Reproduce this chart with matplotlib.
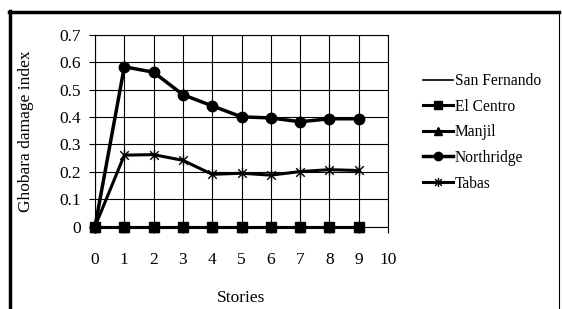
import numpy as np
import matplotlib.pyplot as plt
from matplotlib.path import Path
from matplotlib.lines import Line2D

plt.rcParams['font.family'] = ['Liberation Serif', 'DejaVu Serif']
plt.rcParams['font.size'] = 12.5

stories = [0, 1, 2, 3, 4, 5, 6, 7, 8, 9]
san_fernando = [0, 0, 0, 0, 0, 0, 0, 0, 0, 0]
el_centro = [0, 0, 0, 0, 0, 0, 0, 0, 0, 0]
manjil = [0, 0, 0, 0, 0, 0, 0, 0, 0, 0]
northridge = [0, 0.584, 0.564, 0.482, 0.441, 0.401, 0.397, 0.383, 0.394, 0.394]
tabas = [0, 0.261, 0.263, 0.242, 0.191, 0.195, 0.188, 0.201, 0.208, 0.205]

x_ticks = list(range(0, 11))
y_ticks = [0, 0.1, 0.2, 0.3, 0.4, 0.5, 0.6, 0.7]

# asterisk marker (x + vertical bar) like Excel's star
star = Path([(-1, -1), (1, 1), (-1, 1), (1, -1), (0, -1.3), (0, 1.3)],
            [Path.MOVETO, Path.LINETO, Path.MOVETO, Path.LINETO, Path.MOVETO, Path.LINETO])

fig = plt.figure(figsize=(5.62, 3.09), dpi=100)
ax = fig.add_axes([95 / 562, 1 - 226.6 / 309, 293 / 562, 191.6 / 309])

ax.plot(stories, san_fernando, '-', color='black', lw=1.2, label='San Fernando', clip_on=False)
ax.plot(stories, el_centro, '-', color='black', lw=2.2, marker='s', ms=7, label='El Centro', clip_on=False)
ax.plot(stories, manjil, '-', color='black', lw=2.2, marker='^', ms=7, label='Manjil', clip_on=False)
ax.plot(stories, northridge, '-', color='black', lw=2.5, marker='o', ms=7.5, label='Northridge', clip_on=False)
ax.plot(stories, tabas, '-', color='black', lw=2.2, marker=star, ms=8, mew=1,
        mfc='none', label='Tabas', clip_on=False)

ax.set_xlim(0, 10)
ax.set_ylim(0, 0.7)
ax.set_xticks(x_ticks)
ax.set_yticks(y_ticks)
ax.set_yticklabels(['0'] + [f'{v:.1f}' for v in y_ticks[1:]])
ax.grid(True, color='black', lw=0.8)
ax.set_axisbelow(True)
for s in ax.spines.values():
    s.set_color('black')
    s.set_linewidth(0.8)
ax.tick_params(direction='out', length=4, width=0.8, pad=6)
ax.tick_params(axis='x', pad=14)

ax.set_ylabel('Ghobara damage index', labelpad=18)
ax.set_xlabel('Stories', labelpad=16)

leg = ax.legend(loc='upper left', bbox_to_anchor=(423 / 562, 1 - 73 / 309),
                bbox_transform=fig.transFigure, frameon=False, borderpad=0,
                borderaxespad=0, handlelength=1.9, handletextpad=0.15,
                labelspacing=0.62, fontsize=11.2, markerscale=0.8)

# outer border (top and left thick, right thin)
fig.add_artist(Line2D([10 / 562, 10 / 562], [0, 1 - 11 / 309], color='black', lw=2.5))
fig.add_artist(Line2D([9 / 562, 559 / 562], [1 - 12 / 309, 1 - 12 / 309], color='black', lw=2.5))
fig.add_artist(Line2D([559 / 562, 559 / 562], [0, 1 - 12 / 309], color='black', lw=0.8))

fig.savefig('out.png', dpi=100)
